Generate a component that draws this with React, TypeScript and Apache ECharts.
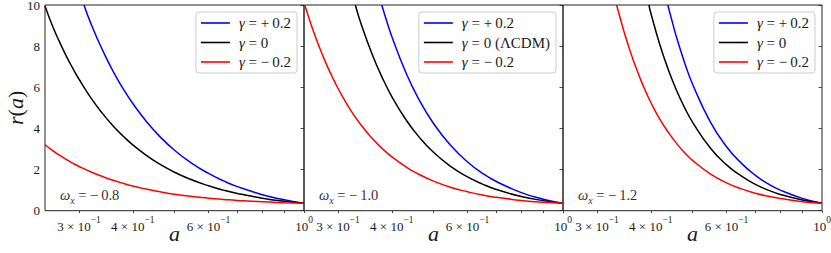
import React, { useEffect, useRef } from 'react';
import * as echarts from 'echarts';

// ---------- data ----------
const omegaLabels = ['−0.8', '−1.0', '−1.2'];
const gammaLabels = ['+0.2', '0', '−0.2'];
const lcdmSuffix = ' (ΛCDM)';
const curveColors = ['#0000ff', '#000000', '#ff0000'];

const xTickValues = [0.3, 0.4, 0.6, 1.0];
const xTickMantissa = ['3 × 10', '4 × 10', '6 × 10', '10'];
const xTickExponent = ['−1', '−1', '−1', '0'];
const xMinorTicks = [0.3, 0.4, 0.5, 0.6, 0.7, 0.8, 0.9, 1.0];
const xMin = 0.25;
const xMax = 1.0;
const yMin = 0;
const yMax = 10;
const yStep = 2;

// panel 1 (w = -0.8)
const p1BlueA = [0.308, 0.32, 0.34, 0.36, 0.38, 0.40, 0.43, 0.46, 0.50, 0.55, 0.60, 0.65, 0.70, 0.80, 0.90, 1.00];
const p1BlueR = [10, 9.07, 7.81, 6.77, 5.92, 5.21, 4.34, 3.65, 2.94, 2.29, 1.81, 1.45, 1.17, 0.78, 0.53, 0.36];
const p1BlackA = [0.25, 0.26, 0.27, 0.28, 0.29, 0.30, 0.32, 0.34, 0.36, 0.38, 0.40, 0.43, 0.46, 0.50, 0.55, 0.60, 0.65, 0.70, 0.80, 0.90, 1.00];
const p1BlackR = [9.95, 9.00, 8.22, 7.53, 6.93, 6.39, 5.47, 4.73, 4.12, 3.62, 3.20, 2.69, 2.29, 1.87, 1.49, 1.21, 1.00, 0.84, 0.61, 0.46, 0.36];
const p1RedA = [0.25, 0.26, 0.27, 0.28, 0.29, 0.30, 0.32, 0.34, 0.36, 0.38, 0.40, 0.43, 0.46, 0.50, 0.55, 0.60, 0.65, 0.70, 0.80, 0.90, 1.00];
const p1RedR = [3.22, 2.93, 2.70, 2.49, 2.31, 2.15, 1.88, 1.66, 1.48, 1.33, 1.20, 1.05, 0.93, 0.80, 0.69, 0.61, 0.55, 0.50, 0.43, 0.39, 0.36];

// panel 2 (w = -1.0)
const p2BlueA = [0.379, 0.39, 0.40, 0.43, 0.46, 0.50, 0.55, 0.60, 0.65, 0.70, 0.80, 0.90, 1.00];
const p2BlueR = [10, 9.16, 8.47, 6.78, 5.50, 4.24, 3.14, 2.37, 1.82, 1.42, 0.88, 0.56, 0.36];
const p2BlackA = [0.329, 0.34, 0.36, 0.38, 0.40, 0.43, 0.46, 0.50, 0.55, 0.60, 0.65, 0.70, 0.80, 0.90, 1.00];
const p2BlackR = [10, 9.03, 7.61, 6.47, 5.55, 4.47, 3.65, 2.84, 2.13, 1.64, 1.29, 1.03, 0.69, 0.49, 0.36];
const p2RedA = [0.251, 0.26, 0.27, 0.28, 0.29, 0.30, 0.32, 0.34, 0.36, 0.38, 0.40, 0.43, 0.46, 0.50, 0.55, 0.60, 0.65, 0.70, 0.80, 0.90, 1.00];
const p2RedR = [10, 9.02, 8.08, 7.26, 6.56, 5.94, 4.93, 4.14, 3.52, 3.02, 2.62, 2.15, 1.79, 1.44, 1.13, 0.92, 0.76, 0.65, 0.50, 0.41, 0.36];

// panel 3 (w = -1.2)
const p3BlueA = [0.438, 0.45, 0.46, 0.48, 0.50, 0.55, 0.60, 0.65, 0.70, 0.75, 0.80, 0.90, 1.00];
const p3BlueR = [10, 9.08, 8.37, 7.16, 6.16, 4.32, 3.11, 2.30, 1.72, 1.30, 1.00, 0.60, 0.36];
const p3BlackA = [0.396, 0.40, 0.42, 0.44, 0.46, 0.48, 0.50, 0.55, 0.60, 0.65, 0.70, 0.75, 0.80, 0.90, 1.00];
const p3BlackR = [10, 9.61, 8.06, 6.82, 5.81, 4.99, 4.31, 3.05, 2.23, 1.68, 1.28, 1.00, 0.79, 0.52, 0.36];
const p3RedA = [0.333, 0.34, 0.35, 0.36, 0.37, 0.38, 0.39, 0.40, 0.42, 0.44, 0.46, 0.48, 0.50, 0.55, 0.60, 0.65, 0.70, 0.75, 0.80, 0.90, 1.00];
const p3RedR = [10, 9.32, 8.41, 7.62, 6.92, 6.30, 5.75, 5.26, 4.44, 3.79, 3.25, 2.81, 2.45, 1.79, 1.35, 1.06, 0.85, 0.70, 0.59, 0.44, 0.36];

const panelCurves = [
  [[p1BlueA, p1BlueR], [p1BlackA, p1BlackR], [p1RedA, p1RedR]],
  [[p2BlueA, p2BlueR], [p2BlackA, p2BlackR], [p2RedA, p2RedR]],
  [[p3BlueA, p3BlueR], [p3BlackA, p3BlackR], [p3RedA, p3RedR]],
];

// ---------- layout ----------
const FONT = '"Liberation Serif", "DejaVu Serif", serif';
const TXT = '#1a1a1a';
const PANEL_LEFT = [45, 304, 563];
const PANEL_W = 259;
const PANEL_TOP = 5;
const PANEL_H = 205.7;
const LEGEND_RIGHT = [534, 275, 16];
const THIN = '\u2009';
const LEG_FS = 15;

function seriesName(panel: number, k: number) {
  return 'γ = ' + gammaLabels[k] + (panel === 1 && k === 1 ? lcdmSuffix : '');
}

function legendText(name: string) {
  const rest = name.replace('γ = ', '');
  const spaced = rest.replace(/^([+−])/, '$1' + THIN);
  return '{i|γ} = ' + spaced;
}

export default function App() {
  const ref = useRef<HTMLDivElement>(null);
  useEffect(() => {
    const chart = echarts.init(ref.current!, null, { renderer: 'svg' });
    const lx = Math.log10;
    const grids: any[] = [];
    const xAxes: any[] = [];
    const yAxes: any[] = [];
    const series: any[] = [];
    const legends: any[] = [];
    const graphics: any[] = [];

    for (let p = 0; p < 3; p++) {
      grids.push({
        left: PANEL_LEFT[p], top: PANEL_TOP, width: PANEL_W, height: PANEL_H,
        outerBoundsMode: 'none', containLabel: false,
        show: true, borderColor: '#222', borderWidth: 1, backgroundColor: 'transparent',
      });
      xAxes.push({
        type: 'value', gridIndex: p, min: lx(xMin), max: lx(xMax),
        axisLine: { show: false }, splitLine: { show: false },
        axisTick: {
          show: true, inside: false, length: 2.5,
          customValues: xMinorTicks.map(lx),
          lineStyle: { color: '#222', width: 0.8 },
        },
        axisLabel: {
          customValues: xTickValues.map(lx),
          margin: 4,
          color: TXT,
          fontFamily: FONT,
          hideOverlap: false,
          formatter: (v: number) => {
            const i = xTickValues.findIndex((t) => Math.abs(lx(t) - v) < 1e-6);
            if (i < 0) return '';
            return '{b|' + xTickMantissa[i] + '}{s|' + xTickExponent[i] + '}';
          },
          rich: {
            b: { fontSize: 13, lineHeight: 18, verticalAlign: 'bottom', fontFamily: FONT, color: TXT },
            s: { fontSize: 9.5, lineHeight: 9, verticalAlign: 'top', fontFamily: FONT, color: TXT },
          },
        },
        name: 'a', nameLocation: 'middle', nameGap: 11.5, nameMoveOverlap: false,
        nameTextStyle: { fontFamily: FONT, fontStyle: 'italic', fontSize: 22, color: TXT },
      });
      yAxes.push({
        type: 'value', gridIndex: p, min: yMin, max: yMax, interval: yStep,
        axisLine: { show: false }, splitLine: { show: false },
        axisTick: { show: true, inside: false, length: 3.5, lineStyle: { color: '#222', width: 0.8 } },
        axisLabel: { show: p === 0, fontFamily: FONT, fontSize: 13, lineHeight: 10, color: TXT, margin: 5 },
        name: p === 0 ? '{i|r}({i|a})' : '',
        nameLocation: 'middle', nameGap: 19, nameRotate: 90, nameMoveOverlap: false,
        nameTextStyle: {
          fontFamily: FONT, fontSize: 22, color: TXT,
          rich: { i: { fontFamily: FONT, fontSize: 22, fontStyle: 'italic', color: TXT } },
        },
      });
      const names: string[] = [];
      for (let k = 0; k < 3; k++) {
        const [A, R] = panelCurves[p][k];
        const name = seriesName(p, k);
        names.push(name);
        series.push({
          type: 'line', name, xAxisIndex: p, yAxisIndex: p,
          data: A.map((a, i) => [lx(a), R[i]]),
          showSymbol: false, smooth: 0.5, clip: true,
          lineStyle: { color: curveColors[k], width: 1.5 },
          itemStyle: { color: curveColors[k] },
          z: 2 + k,
        });
      }
      legends.push({
        orient: 'vertical', right: LEGEND_RIGHT[p], top: 12,
        data: names, icon: 'rect', itemWidth: 29, itemHeight: 1.6, itemGap: 3.5,
        padding: [3, 6, 3, 5], backgroundColor: 'rgba(255,255,255,0.85)',
        borderColor: '#cccccc', borderWidth: 1, borderRadius: 3, selectedMode: false,
        formatter: legendText,
        textStyle: {
          fontFamily: FONT, fontSize: LEG_FS, color: TXT, lineHeight: 16, padding: [0, 0, 0, 4],
          rich: { i: { fontFamily: FONT, fontSize: LEG_FS, fontStyle: 'italic', color: TXT, lineHeight: 16 } },
        },
      });
      graphics.push({
        type: 'text', x: PANEL_LEFT[p] + 15, y: 196, z: 10,
        style: {
          text: '{w|ω}{x|x}{t| = −' + THIN + omegaLabels[p].replace('−', '') + '}',
          verticalAlign: 'middle', fill: '#333',
          rich: {
            w: { fontFamily: FONT, fontSize: 14.5, fontStyle: 'italic', lineHeight: 18, verticalAlign: 'top', fill: '#333' },
            x: { fontFamily: FONT, fontSize: 10, fontStyle: 'italic', lineHeight: 12, verticalAlign: 'bottom', fill: '#333' },
            t: { fontFamily: FONT, fontSize: 14.5, lineHeight: 18, verticalAlign: 'top', fill: '#333' },
          },
        },
      });
    }

    chart.setOption({
      animation: false,
      backgroundColor: '#ffffff',
      grid: grids,
      xAxis: xAxes,
      yAxis: yAxes,
      legend: legends,
      series,
      graphic: graphics,
    });
    return () => chart.dispose();
  }, []);
  return (
    <div
      ref={ref}
      style={{ position: 'fixed', left: 0, top: 0, width: 831, height: 253, background: '#fff' }}
    />
  );
}
